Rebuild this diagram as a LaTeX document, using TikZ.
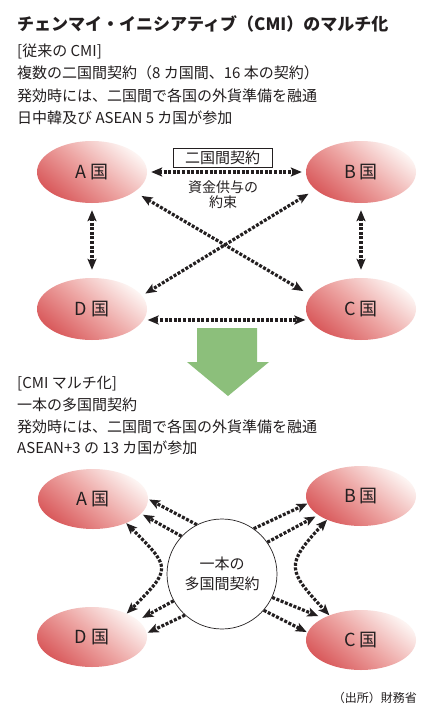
\documentclass[tikz,border=0pt]{standalone}
\usepackage{fontspec}
\setmainfont{Noto Sans CJK JP}
\usetikzlibrary{arrows.meta,shapes.geometric}
\definecolor{ink}{HTML}{231F20}
\definecolor{redA}{HTML}{D95A5C}
\definecolor{redB}{HTML}{EDA5A3}
\definecolor{redC}{HTML}{FDF4F2}
\definecolor{arrowgreen}{HTML}{8CBF7B}
\begin{document}
\begin{tikzpicture}[x=1pt,y=-1pt,
  country/.style={ellipse, minimum width=110pt, minimum height=62pt, inner sep=0pt,
    top color=redC, bottom color=redA, middle color=redB, shading angle=-40,
    font=\fontsize{18}{20}\selectfont, text=ink},
  textline/.style={anchor=base west, inner sep=0pt, font=\fontsize{15}{18}\selectfont, text=ink},
  dotline/.style={draw=ink, line width=3.2pt, dash pattern=on 3pt off 1.6pt,
    >={Stealth[length=11pt,width=9pt,inset=2.5pt]}}
]
\fill[white] (0,0) rectangle (441,716);
\useasboundingbox (0,0) rectangle (441,716);

% texts, part 1
\node[textline, font=\fontsize{17}{20}\selectfont\bfseries] (title) at (17,30.5) {チェンマイ・イニシアティブ（CMI）のマルチ化};
\node[textline] (h1) at (17,56.5) {[従来の CMI]};
\node[textline] (l11) at (17,78.5) {複数の二国間契約（8 カ国間、16 本の契約）};
\node[textline] (l12) at (17,101.5) {発効時には、二国間で各国の外貨準備を融通};
\node[textline] (l13) at (17,123.5) {日中韓及び ASEAN 5 カ国が参加};

% diagram 1
\node[country] (A1) at (92,172) {A 国};
\node[country] (B1) at (361,172) {B 国};
\node[country] (D1) at (92,309) {D 国};
\node[country] (C1) at (361,309) {C 国};
\node[draw=ink, line width=0.8pt, minimum width=99pt, minimum height=19pt, inner sep=0pt,
  font=\fontsize{15}{18}\selectfont, text=ink] (pact) at (222.5,157.5) {二国間契約};
\node[align=center, inner sep=0pt, font=\fontsize{14}{15}\selectfont, text=ink] (promise) at (223,195) {資金供与の\\約束};

\draw[dotline,<->,shorten <=4pt,shorten >=4pt] (A1.east) -- (B1.west);
\draw[dotline,<->,shorten <=7pt,shorten >=8pt] (A1.south) -- (D1.north);
\draw[dotline,<->,shorten <=7pt,shorten >=8pt] (B1.south) -- (C1.north);
\draw[dotline,<->,shorten <=4pt,shorten >=4pt] (D1.-12) -- (C1.192);
\draw[dotline,<->,shorten <=8pt,shorten >=9pt] (A1.-25) -- (C1.165);
\draw[dotline,<->,shorten <=8pt,shorten >=4pt] (B1.201) -- (D1.15);

% green arrow
\fill[arrowgreen] (197,328) -- (257,328) -- (257,362) -- (269,362) -- (228,396)
  -- (187,362) -- (197,362) -- cycle;

% texts, part 2
\node[textline] (h2) at (17,388.5) {[CMI マルチ化]};
\node[textline] (l21) at (17,410.5) {一本の多国間契約};
\node[textline] (l22) at (17,432.5) {発効時には、二国間で各国の外貨準備を融通};
\node[textline] (l23) at (17,453.5) {ASEAN+3 の 13 カ国が参加};

% diagram 2
\node[country, minimum height=60pt] (A2) at (93,499) {A 国};
\node[country, minimum height=60pt] (B2) at (361,496) {B 国};
\node[country, minimum height=60pt] (D2) at (92,637) {D 国};
\node[country, minimum height=60pt] (C2) at (361,640) {C 国};
\node[circle, draw=ink, line width=0.7pt, fill=white, minimum size=110pt, inner sep=0pt,
  align=center, font=\fontsize{15}{20}\selectfont, text=ink] (M) at (222,574) {一本の\\多国間契約};

\draw[dotline,->,shorten >=1pt] (M.117) -- (A2.0);
\draw[dotline,->,shorten >=2pt] (M.137) -- (A2.-17);
\draw[dotline,<->] (A2.-36) .. controls +(45,45) and +(45,-45) .. (D2.34);
\draw[dotline,->,shorten >=5pt] (M.209) -- (D2.20);
\draw[dotline,->,shorten >=1pt] (M.228) -- (D2.4);
\draw[dotline,->] (M.55) -- (B2.188);
\draw[dotline,->,shorten >=3pt] (M.35) -- (B2.204);
\draw[dotline,<->] (B2.215) .. controls +(-42,45) and +(-42,-45) .. (C2.142);
\draw[dotline,->,shorten >=5pt] (M.-25) -- (C2.150);
\draw[dotline,->,shorten >=1pt] (M.-41) -- (C2.172);

\node[anchor=base east, inner sep=0pt, font=\fontsize{12}{14}\selectfont, text=ink] (source) at (417,702.5) {（出所）財務省};
\end{tikzpicture}
\end{document}
